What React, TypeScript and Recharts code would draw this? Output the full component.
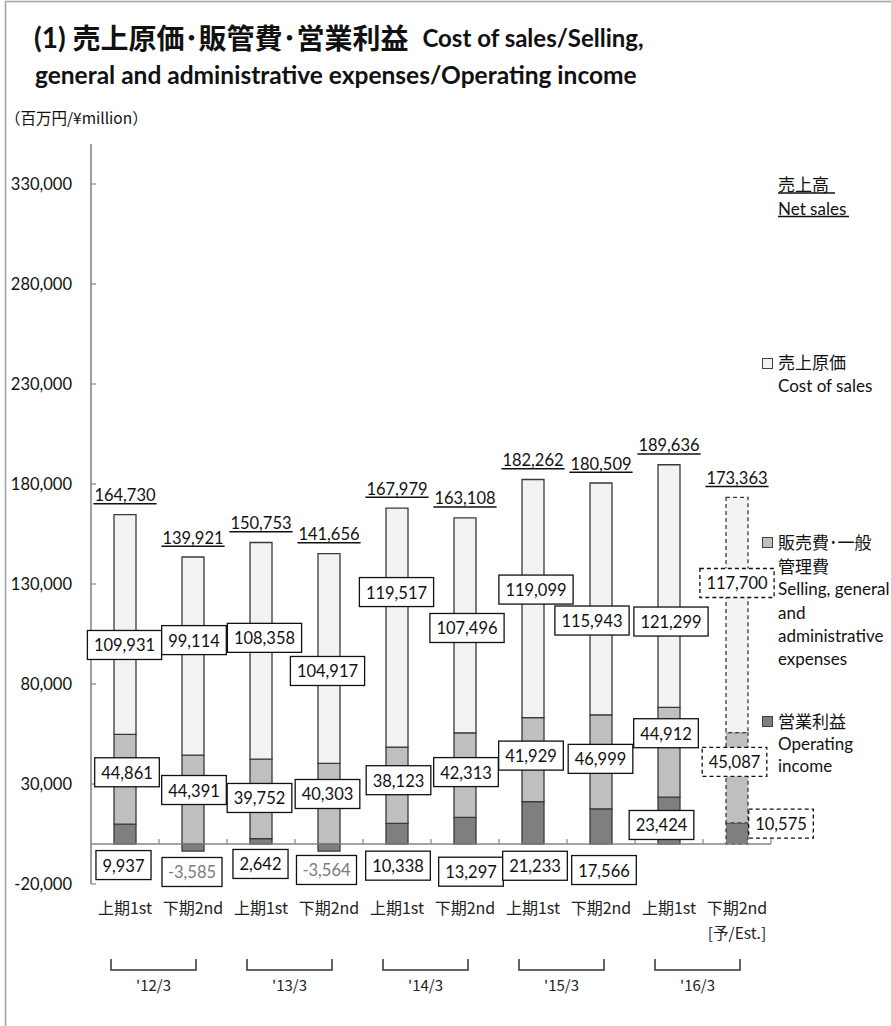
import React from 'react';
import { BarChart, Bar, XAxis, YAxis, ReferenceLine, LabelList, Cell } from 'recharts';

// ---------- data ----------
const periodKeys = ['12/3-1', '12/3-2', '13/3-1', '13/3-2', '14/3-1', '14/3-2', '15/3-1', '15/3-2', '16/3-1', '16/3-2'];
const periodLabels = ['上期1st', '下期2nd', '上期1st', '下期2nd', '上期1st', '下期2nd', '上期1st', '下期2nd', '上期1st', '下期2nd'];
const periodNotes = ['', '', '', '', '', '', '', '', '', '[予/Est.]'];
const fiscalYears = ["'12/3", "'13/3", "'14/3", "'15/3", "'16/3"];
const netSales = [164730, 139921, 150753, 141656, 167979, 163108, 182262, 180509, 189636, 173363];
const costOfSales = [109931, 99114, 108358, 104917, 119517, 107496, 119099, 115943, 121299, 117700];
const sgaExpenses = [44861, 44391, 39752, 40303, 38123, 42313, 41929, 46999, 44912, 45087];
const operatingIncome = [9937, -3585, 2642, -3564, 10338, 13297, 21233, 17566, 23424, 10575];
const isEstimate = [false, false, false, false, false, false, false, false, false, true];
const yTicks = [-20000, 30000, 80000, 130000, 180000, 230000, 280000, 330000];

// ---------- layout (label nudges in px, relative to segment centre) ----------
const costNudge = [[-0.5, 20.5], [1, -16], [3.5, -13], [-1.5, 12.5], [-0.5, -35.5], [2, 2.7], [3, -9], [-9, 21.6], [2, 35.5], [0, -32]];
const sgaNudge = [[2, -7], [1, -9.6], [-1.5, -1], [-1.5, -9.7], [1.5, -5], [1, -3], [-2, -4], [-0.5, -3], [-3, -19], [-2.5, -15.8]];
const opNudge = [[-1.5, 31], [-1, 24.4], [-0.5, 22.6], [-2.5, 22.4], [1, 32], [6, 41], [2, 43], [3, 43.6], [-7.5, 4.4], [44, -9.9]];

const data = periodKeys.map((key, i) => ({
  key,
  op: operatingIncome[i],
  sga: sgaExpenses[i],
  cost: costOfSales[i],
  sales: netSales[i],
}));

const LATIN = "Lato, 'Noto Sans CJK JP', sans-serif";
const JP = "'Noto Sans CJK JP', sans-serif";
const VAL_FS = 16.5;
const AXIS_GRAY = '#868686';

const fmt = (v: number) => v.toLocaleString('en-US');
const textWidth = (s: string, fs: number) => {
  let w = 0;
  for (const ch of s) {
    if (ch >= '0' && ch <= '9') w += 0.58;
    else if (ch === ',') w += 0.23;
    else if (ch === '-') w += 0.3;
    else w += 0.5;
  }
  return w * fs;
};

const getBox = (props: any) => {
  const vb = props.viewBox && props.viewBox.width !== undefined ? props.viewBox : props;
  return { x: Number(vb.x), y: Number(vb.y), w: Number(vb.width), h: Number(vb.height) };
};

const makeBoxLabel = (nudges: number[][], values: number[]) => (props: any) => {
  const { x, y, w, h } = getBox(props);
  const i = typeof props.index === 'number' ? props.index : values.indexOf(Number(props.value));
  if (i < 0) return null;
  const v = values[i];
  const txt = fmt(v);
  const cx = x + w / 2 + nudges[i][0];
  const cy = y + h / 2 + nudges[i][1];
  const bw = textWidth(txt, VAL_FS) + 13;
  const bh = 29;
  return (
    <g>
      <rect x={cx - bw / 2} y={cy - bh / 2} width={bw} height={bh} fill="#ffffff" stroke="#111"
        strokeWidth={1.3} strokeDasharray={isEstimate[i] ? '4 3' : undefined} />
      <text x={cx} y={cy + 0.5} textAnchor="middle" dominantBaseline="central" fontFamily={LATIN}
        fontSize={VAL_FS} fill={v < 0 ? '#7a7a7a' : '#111'}>{txt}</text>
    </g>
  );
};

const salesLabel = (props: any) => {
  const { x, y, w, h } = getBox(props);
  const i = typeof props.index === 'number' ? props.index : costOfSales.indexOf(Number(props.value));
  if (i < 0) return null;
  const txt = fmt(netSales[i]);
  const top = Math.min(y, y + h);
  const cx = x + w / 2;
  const cy = top - 19.3;
  const tw = textWidth(txt, VAL_FS);
  return (
    <g>
      <text x={cx} y={cy} textAnchor="middle" dominantBaseline="central" fontFamily={LATIN}
        fontSize={VAL_FS} fill="#111">{txt}</text>
      <line x1={cx - tw / 2 - 1} x2={cx + tw / 2 + 1} y1={cy + 8.5} y2={cy + 8.5} stroke="#111" strokeWidth={1.4} />
    </g>
  );
};

const YTick = (props: any) => {
  const { x, y, payload } = props;
  const axisX = x + 6 + 13;
  return (
    <g>
      <line x1={axisX} x2={axisX + 5} y1={y} y2={y} stroke={AXIS_GRAY} strokeWidth={1.2} />
      <text x={x} y={y} textAnchor="end" dominantBaseline="central" fontFamily={LATIN} fontSize={16.5} fill="#111">
        {fmt(payload.value)}
      </text>
    </g>
  );
};

const XTick = (props: any) => {
  const { x, y, index } = props;
  const i = index as number;
  const base = y;
  const showYear = i % 2 === 0;
  return (
    <g>
      <text x={x} y={base + 23} textAnchor="middle" dominantBaseline="central" fontFamily={JP} fontSize={16} fill="#222">
        {periodLabels[i]}
      </text>
      {periodNotes[i] ? (
        <text x={x} y={base + 48} textAnchor="middle" dominantBaseline="central" fontFamily={JP} fontSize={15.5} fill="#222">
          {periodNotes[i]}
        </text>
      ) : null}
      {showYear ? (
        <g>
          <path d={`M${x - 14},${base + 75} V${base + 86} H${x + 71} V${base + 75}`} fill="none" stroke="#333" strokeWidth={1.5} />
          <text x={x + 28.5} y={base + 100} textAnchor="middle" dominantBaseline="central" fontFamily={JP} fontSize={15} fill="#222">
            {fiscalYears[i / 2]}
          </text>
        </g>
      ) : null}
    </g>
  );
};

const ZeroAxis = (p: any) => {
  const x1 = Number(p.x1), x2 = Number(p.x2), y1 = Number(p.y1);
  const n = data.length;
  const step = (x2 - x1) / n;
  return (
    <g>
      <line x1={x1} x2={x2} y1={y1} y2={y1} stroke={AXIS_GRAY} strokeWidth={1.6} />
      {Array.from({ length: n }, (_, k) => (
        <line key={k} x1={x1 + (k + 1) * step} x2={x1 + (k + 1) * step} y1={y1} y2={y1 - 5} stroke={AXIS_GRAY} strokeWidth={1.2} />
      ))}
    </g>
  );
};

const LegendMarker = ({ x, y, fill }: { x: number; y: number; fill: string }) => (
  <rect x={x} y={y} width={10} height={10} fill={fill} stroke="#404040" strokeWidth={1} />
);

const Overlay = () => (
  <svg width={891} height={1026} style={{ position: 'absolute', left: 0, top: 0, pointerEvents: 'none' }}>
    <rect x={5.5} y={1.5} width={960} height={1100} fill="none" stroke="#a8a8a8" strokeWidth={1.6} />
    <text x={34} y={37} dominantBaseline="central" fontWeight={700} fill="#111">
      <tspan fontFamily={LATIN} fontSize={28}>(1) </tspan>
      <tspan fontFamily={JP} fontSize={28}>売上原価･販管費･営業利益</tspan>
      <tspan fontFamily={LATIN} fontSize={24} dx={14}>Cost of sales/Selling,</tspan>
    </text>
    <text x={35} y={74} dominantBaseline="central" fontWeight={700} fontFamily={LATIN} fontSize={24.5} fill="#111">
      general and administrative expenses/Operating income
    </text>
    <text x={5} y={117} dominantBaseline="central" fontFamily={JP} fontSize={15.5} fill="#111">（百万円/¥million）</text>

    {/* legend */}
    <g fontSize={17} fill="#111">
      <text x={778} y={183.5} dominantBaseline="central" fontFamily={JP}>売上高</text>
      <line x1={778} x2={835} y1={193} y2={193} stroke="#111" strokeWidth={1.3} />
      <text x={778} y={208} dominantBaseline="central" fontFamily={LATIN}>Net sales</text>
      <line x1={778} x2={849} y1={216.5} y2={216.5} stroke="#111" strokeWidth={1.3} />

      <LegendMarker x={762.5} y={358.5} fill="#f2f2f2" />
      <text x={778} y={361} dominantBaseline="central" fontFamily={JP}>売上原価</text>
      <text x={778} y={385} dominantBaseline="central" fontFamily={LATIN}>Cost of sales</text>

      <LegendMarker x={762.5} y={537.5} fill="#bfbfbf" />
      <text x={778} y={541} dominantBaseline="central" fontFamily={JP}>販売費･一般</text>
      <text x={778} y={565} dominantBaseline="central" fontFamily={JP}>管理費</text>
      <text x={778} y={588} dominantBaseline="central" fontFamily={LATIN}>Selling, general</text>
      <text x={778} y={612} dominantBaseline="central" fontFamily={LATIN}>and</text>
      <text x={778} y={635} dominantBaseline="central" fontFamily={LATIN}>administrative</text>
      <text x={778} y={658} dominantBaseline="central" fontFamily={LATIN}>expenses</text>

      <LegendMarker x={762.5} y={716.5} fill="#7f7f7f" />
      <text x={778} y={720} dominantBaseline="central" fontFamily={JP}>営業利益</text>
      <text x={778} y={743} dominantBaseline="central" fontFamily={LATIN}>Operating</text>
      <text x={778} y={765} dominantBaseline="central" fontFamily={LATIN}>income</text>
    </g>
  </svg>
);

const BAR_STROKE = '#3a3a3a';

export default function App() {
  return (
    <div style={{ position: 'absolute', left: 0, top: 0, width: 891, height: 1026, background: '#fff', fontFamily: LATIN }}>
      <BarChart
        width={891}
        height={1026}
        data={data}
        stackOffset="sign"
        margin={{ top: 144, right: 120, bottom: 82, left: 0 }}
      >
        <XAxis
          dataKey="key"
          type="category"
          axisLine={false}
          tickLine={false}
          tickSize={0}
          tickMargin={0}
          height={60}
          interval={0}
          tick={<XTick />}
        />
        <YAxis
          type="number"
          domain={[-20000, 350000]}
          ticks={yTicks}
          allowDataOverflow
          width={91}
          axisLine={{ stroke: AXIS_GRAY, strokeWidth: 1.6 }}
          tickLine={false}
          tickSize={6}
          tickMargin={13}
          interval={0}
          tick={<YTick />}
        />
        <Bar dataKey="op" stackId="s" fill="#7f7f7f" stroke={BAR_STROKE} strokeWidth={1.3} barSize={22} isAnimationActive={false}>
          {data.map((d, i) => (
            <Cell key={d.key} strokeDasharray={isEstimate[i] ? '4 3' : undefined} />
          ))}
          <LabelList dataKey="op" content={makeBoxLabel(opNudge, operatingIncome)} />
        </Bar>
        <Bar dataKey="sga" stackId="s" fill="#bfbfbf" stroke={BAR_STROKE} strokeWidth={1.3} barSize={22} isAnimationActive={false}>
          {data.map((d, i) => (
            <Cell key={d.key} strokeDasharray={isEstimate[i] ? '4 3' : undefined} />
          ))}
          <LabelList dataKey="sga" content={makeBoxLabel(sgaNudge, sgaExpenses)} />
        </Bar>
        <Bar dataKey="cost" stackId="s" fill="#f2f2f2" stroke={BAR_STROKE} strokeWidth={1.3} barSize={22} isAnimationActive={false}>
          {data.map((d, i) => (
            <Cell key={d.key} strokeDasharray={isEstimate[i] ? '4 3' : undefined} />
          ))}
          <LabelList dataKey="cost" content={makeBoxLabel(costNudge, costOfSales)} />
          <LabelList dataKey="cost" content={salesLabel} />
        </Bar>
        <ReferenceLine y={0} ifOverflow="visible" shape={ZeroAxis} />
      </BarChart>
      <Overlay />
    </div>
  );
}
